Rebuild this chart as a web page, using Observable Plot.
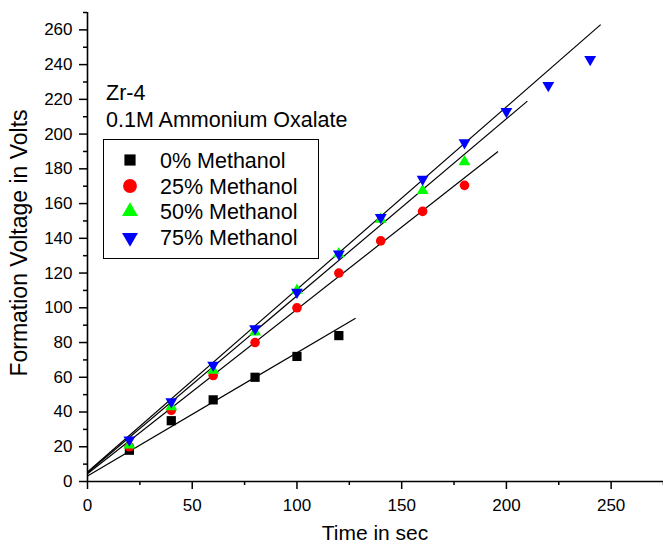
<!DOCTYPE html>
<html>
<head>
<meta charset="utf-8">
<script src="https://cdn.jsdelivr.net/npm/d3@7"></script>
<script src="https://cdn.jsdelivr.net/npm/@observablehq/plot@0.6"></script>
<style>
  html, body { margin: 0; padding: 0; background: #fff; }
  #chart svg { display: block; }
</style>
</head>
<body>
<div id="chart"></div>
<script>
// ---- Data ----
const seriesNames = ["0% Methanol", "25% Methanol", "50% Methanol", "75% Methanol"];
const seriesColors = ["#000000", "#ff0000", "#00ff00", "#0000ff"];

const time0  = [20, 40, 60, 80, 100, 120];
const volt0  = [18, 35, 47, 60, 72, 84];
const time25 = [20, 40, 60, 80, 100, 120, 140, 160, 180];
const volt25 = [20, 41, 61, 80, 100, 120, 138.5, 155.5, 170.5];
const time50 = [20, 40, 60, 80, 100, 120, 140, 160, 180];
const volt50 = [21, 43, 64, 86, 110, 131, 151, 167.5, 184];
const time75 = [20, 40, 60, 80, 100, 120, 140, 160, 180, 200, 220, 240];
const volt75 = [24, 46, 67, 88, 109, 131, 152, 174, 195, 213, 228, 243];

// Linear fit lines (start/end)
const fitX0 = [0, 0, 0, 0];
const fitY0 = [3.2, 4.5, 5.0, 5.5];
const fitX1 = [128, 196, 210, 245];
const fitY1 = [94, 190, 219, 263];

const xMajor = [0, 50, 100, 150, 200, 250];
const xMinor = [25, 75, 125, 175, 225, 275];
const yMajor = d3.range(0, 261, 20);
const yMinor = d3.range(10, 271, 20);

const titleLines = ["Zr-4", "0.1M Ammonium Oxalate"];
const xLabel = "Time in sec";
const yLabel = "Formation Voltage in Volts";

// ---- Build ----
const FONT = "'Liberation Sans', Arial, Helvetica, sans-serif";

const triDown = {
  draw(ctx, size) {
    const y = Math.sqrt(size / (3 * Math.sqrt(3)));
    ctx.moveTo(0, 2 * y);
    ctx.lineTo(-Math.sqrt(3) * y, -y);
    ctx.lineTo(Math.sqrt(3) * y, -y);
    ctx.closePath();
  }
};
const symbols = ["square", "circle", "triangle", triDown];
const radii = [5.2, 4.8, 4.4, 4.4];

const seriesData = [
  [time0, volt0], [time25, volt25], [time50, volt50], [time75, volt75]
].map(([t, v], i) => t.map((x, j) => ({x, y: v[j], s: seriesNames[i]})));

const fits = seriesNames.map((s, i) => ({s, x1: fitX0[i], y1: fitY0[i], x2: fitX1[i], y2: fitY1[i]}));

const chart = Plot.plot({
  width: 663,
  height: 546,
  marginLeft: 87,
  marginRight: 0,
  marginTop: 12,
  marginBottom: 65,
  style: {fontFamily: FONT, color: "#000", background: "#fff", overflow: "visible"},
  x: {domain: [0, 275]},
  y: {domain: [0, 270]},
  marks: [
    Plot.axisX({ticks: xMinor, tickSize: 4, text: null, label: null, strokeWidth: 1.5}),
    Plot.axisX({ticks: xMajor, tickSize: 8, tickPadding: 9, fontSize: 17, label: null, strokeWidth: 1.5, tickFormat: d => String(d)}),
    Plot.axisY({ticks: yMinor, tickSize: 4, text: null, label: null, strokeWidth: 1.5}),
    Plot.axisY({ticks: yMajor, tickSize: 8, tickPadding: 7, fontSize: 17, label: null, strokeWidth: 1.5, tickFormat: d => String(d)}),
    Plot.ruleY([0], {strokeWidth: 1.6}),
    Plot.ruleX([0], {strokeWidth: 1.6}),
    Plot.link(fits, {x1: "x1", y1: "y1", x2: "x2", y2: "y2", stroke: "#000", strokeWidth: 1.2}),
    ...seriesData.map((data, i) =>
      Plot.dot(data, {x: "x", y: "y", symbol: symbols[i], r: radii[i], fill: seriesColors[i], stroke: "none"})
    )
  ]
});

document.getElementById("chart").appendChild(chart);

// ---- Annotations: title, legend, axis labels ----
const svg = d3.select(chart);
const g = svg.append("g").attr("font-family", FONT).attr("fill", "#000").attr("text-anchor", "start");

g.append("text").attr("x", 106).attr("y", 100).attr("text-anchor", "start").attr("font-size", 21.5).text(titleLines[0]);
g.append("text").attr("x", 106).attr("y", 127).attr("text-anchor", "start").attr("font-size", 21.5).text(titleLines[1]);

g.append("rect").attr("x", 103.5).attr("y", 139.5).attr("width", 215).attr("height", 119)
  .attr("fill", "#fff").attr("stroke", "#000").attr("stroke-width", 1);

const rowY = [160, 186, 211.5, 237.5];
const legendSymbols = [d3.symbolSquare, d3.symbolCircle, d3.symbolTriangle, triDown];
const legendSizes = [125, 150, 110, 110];
seriesNames.forEach((name, i) => {
  g.append("path")
    .attr("transform", `translate(130,${rowY[i]})`)
    .attr("d", d3.symbol().type(legendSymbols[i]).size(legendSizes[i])())
    .attr("fill", seriesColors[i]);
  g.append("text").attr("x", 160).attr("y", rowY[i]).attr("dy", "0.36em")
    .attr("text-anchor", "start").attr("font-size", 21.5).text(name);
});

g.append("text").attr("x", 375).attr("y", 540).attr("text-anchor", "middle")
  .attr("font-size", 21).text(xLabel);
g.append("text").attr("transform", "translate(27,243) rotate(-90)").attr("text-anchor", "middle")
  .attr("font-size", 23).text(yLabel);
</script>
</body>
</html>
